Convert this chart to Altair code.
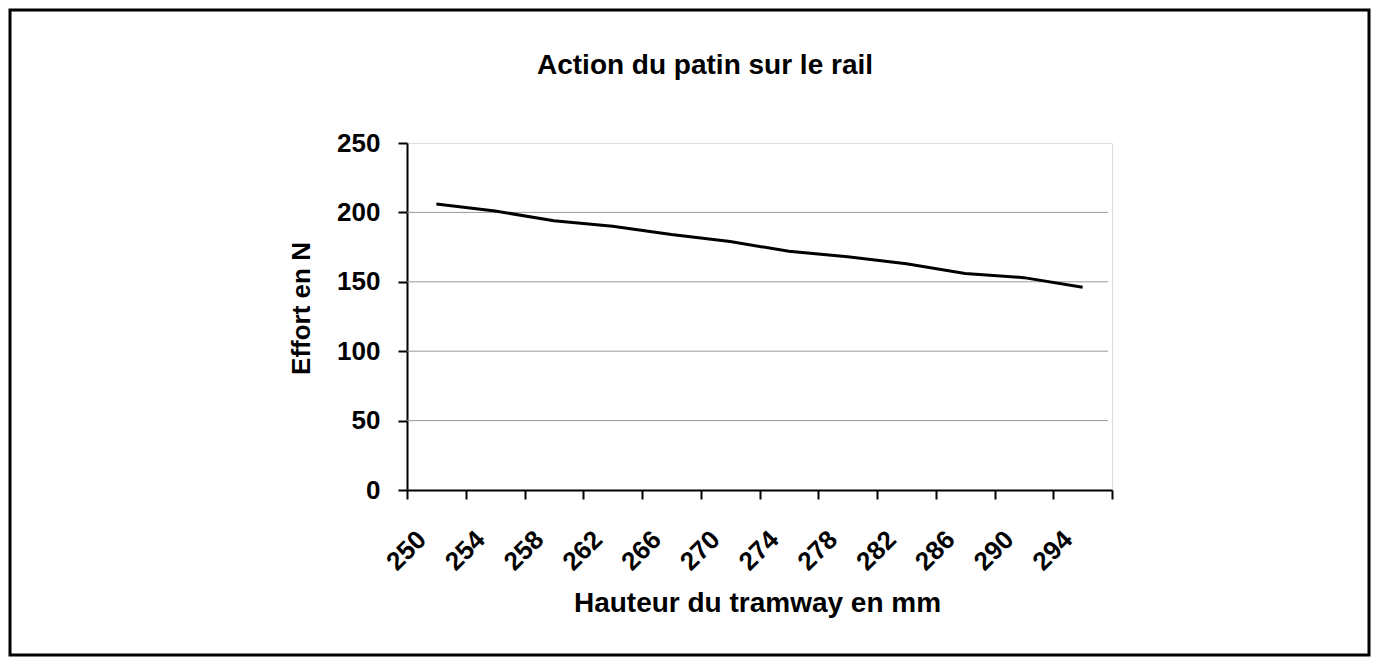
import altair as alt
import pandas as pd

# Data
hauteur = [250, 254, 258, 262, 266, 270, 274, 278, 282, 286, 290, 294]
effort = [206, 201, 194, 190, 184, 179, 172, 168, 163, 156, 153, 146]
y_ticks = [0, 50, 100, 150, 200, 250]
y_grid = [50, 100, 150, 200]
chart_title = ["Action du patin sur le rail"]

FONT = "Liberation Sans"

df = pd.DataFrame({"hauteur": [str(h) for h in hauteur], "effort": effort})
grid_df = pd.DataFrame({"g": y_grid})
title_df = pd.DataFrame({"t": chart_title})

x_enc = alt.X(
    "hauteur:O",
    sort=None,
    bandPosition=0.5,
    scale=alt.Scale(type="band", paddingInner=0, paddingOuter=0),
    axis=alt.Axis(
        title="Hauteur du tramway en mm",
        titleFont=FONT, titleFontSize=28, titleFontWeight="bold", titleColor="black",
        titleX=350, titleY=113, titleBaseline="middle", titleAlign="center",
        labelAngle=-45, labelFont=FONT, labelFontSize=26, labelFontWeight="bold",
        labelColor="black", labelPadding=27, labelOffset=-24,
        tickBand="extent", tickSize=9, tickWidth=2, tickColor="black",
        domainColor="black", domainWidth=2, grid=False,
    ),
)

y_scale = alt.Scale(domain=[0, 250], nice=False, zero=True)

line = alt.Chart(df).mark_line(color="black", strokeWidth=3).encode(
    x=x_enc,
    y=alt.Y(
        "effort:Q",
        scale=y_scale,
        axis=alt.Axis(
            title="Effort en N",
            values=y_ticks,
            titleFont=FONT, titleFontSize=26, titleFontWeight="bold", titleColor="black",
            titleX=-106, titleY=165, titleAngle=270, titleBaseline="middle", titleAlign="center",
            labelFont=FONT, labelFontSize=26, labelFontWeight="bold", labelColor="black",
            labelPadding=18, labelBaseline="middle",
            tickSize=9, tickWidth=2, tickColor="black",
            domainColor="black", domainWidth=2, grid=False,
        ),
    ),
)

grid = alt.Chart(grid_df).mark_rule(color="#999999", strokeWidth=1).encode(
    y=alt.Y("g:Q", scale=y_scale),
    x=alt.value(0),
    x2=alt.value(701),
)

frame = alt.Chart(alt.Data(values=[{}])).mark_rect(
    fill="transparent", stroke="black", strokeWidth=3
).encode(
    x=alt.value(-397), x2=alt.value(962), y=alt.value(-133), y2=alt.value(512)
)

title = alt.Chart(title_df).mark_text(
    font=FONT, fontSize=28, fontWeight="bold", color="black",
    align="center", baseline="alphabetic",
).encode(
    text="t:N", x=alt.value(298), y=alt.value(-69)
)

chart = alt.layer(frame, grid, line, title).properties(
    width=705,
    height=347,
    padding={"left": 399, "top": 135, "right": 260, "bottom": 168},
    autosize=alt.AutoSizeParams(type="none"),
).configure_view(strokeWidth=0).configure(background="white")

chart.save("out.html", embed_options={"renderer": "svg", "actions": False})
